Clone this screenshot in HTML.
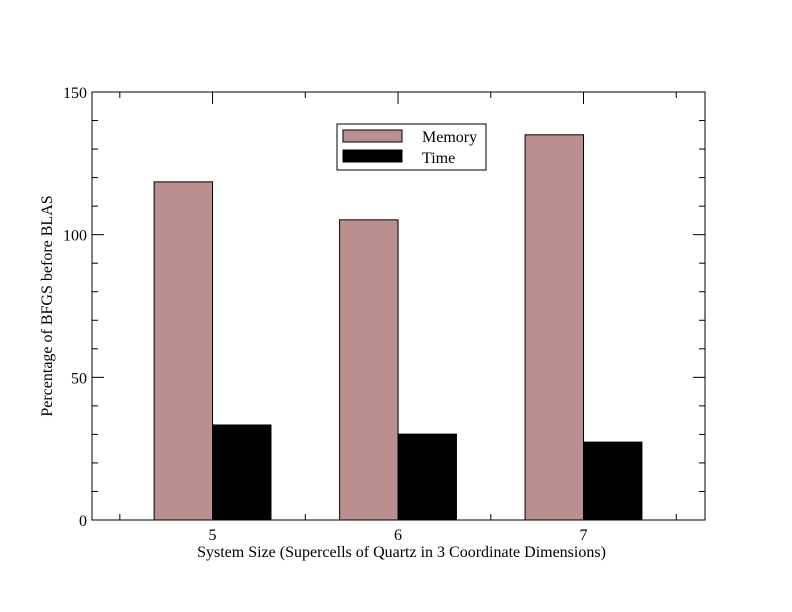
<!DOCTYPE html>
<html><head><meta charset="utf-8"><style>body{margin:0;background:#fff}svg{display:block;font-family:"Liberation Serif",serif}</style></head>
<body>
<svg id="chart" width="792" height="612" xmlns="http://www.w3.org/2000/svg"></svg>
<script>
const categories = [5, 6, 7];
const memoryValues = [118.5, 105.2, 135.0];
const timeValues = [33.3, 30.1, 27.3];
const yTickLabels = [0, 50, 100, 150];

const NS = "http://www.w3.org/2000/svg";
const svg = document.getElementById("chart");
const L = 92, R = 705, T = 92, B = 520;
const xMin = 4.35, xMax = 7.655, yMin = 0, yMax = 150;
const xS = v => L + (v - xMin) / (xMax - xMin) * (R - L);
const yS = v => B - (v - yMin) / (yMax - yMin) * (B - T);
function mk(tag, attrs, parent) {
  const e = document.createElementNS(NS, tag);
  for (const k in attrs) e.setAttribute(k, attrs[k]);
  (parent || svg).appendChild(e);
  return e;
}
const halfW = 0.315;
categories.forEach((c, i) => {
  const m = mk("rect", {x: xS(c - halfW), y: yS(memoryValues[i]), width: xS(c) - xS(c - halfW), height: yS(0) - yS(memoryValues[i]), fill: "#bc8f8f", stroke: "#000", "stroke-width": 1});
  
  
  const t = mk("rect", {x: xS(c), y: yS(timeValues[i]), width: xS(c + halfW) - xS(c), height: yS(0) - yS(timeValues[i]), fill: "#000", stroke: "#000", "stroke-width": 1});
  
  
});
const frame = mk("rect", {x: L, y: T, width: R - L, height: B - T, fill: "none", stroke: "#000", "stroke-width": 1});


// y ticks
for (let v = 0; v <= 150; v += 10) {
  const y = yS(v), len = v % 50 === 0 ? 12 : 6;
  mk("line", {x1: L, x2: L + len, y1: y, y2: y, stroke: "#000"});
  mk("line", {x1: R, x2: R - len, y1: y, y2: y, stroke: "#000"});
}
yTickLabels.forEach(v => {
  const t = mk("text", {x: L - 5, y: yS(v) + 6, "text-anchor": "end", "font-size": 16});
  t.textContent = v;
  
  
});
// x ticks
for (let v = 4.5; v <= 7.5; v += 0.5) {
  const x = xS(v), len = Number.isInteger(v) ? 12 : 6;
  mk("line", {x1: x, x2: x, y1: B, y2: B - len, stroke: "#000"});
  mk("line", {x1: x, x2: x, y1: T, y2: T + len, stroke: "#000"});
}
categories.forEach(c => {
  const t = mk("text", {x: xS(c), y: B + 20, "text-anchor": "middle", "font-size": 16});
  t.textContent = c;
  
  
});
const xt = mk("text", {x: (L + R) / 2 + 3, y: 557, "text-anchor": "middle", "font-size": 16});
xt.textContent = "System Size (Supercells of Quartz in 3 Coordinate Dimensions)";


const yt = mk("text", {x: 0, y: 0, "text-anchor": "middle", "font-size": 16, transform: "translate(52," + ((T + B) / 2) + ") rotate(-90)"});
yt.textContent = "Percentage of BFGS before BLAS";


// legend
const lg = mk("g", {});


mk("rect", {x: 337, y: 124, width: 149, height: 46, fill: "#fff", stroke: "#000"}, lg);
mk("rect", {x: 343, y: 130, width: 59, height: 12, fill: "#bc8f8f", stroke: "#000"}, lg);
mk("rect", {x: 343, y: 150, width: 59, height: 12, fill: "#000", stroke: "#000"}, lg);
const l1 = mk("text", {x: 422, y: 142, "font-size": 16}, lg);
l1.textContent = "Memory";


const l2 = mk("text", {x: 422, y: 163, "font-size": 16}, lg);
l2.textContent = "Time";


</script>
</body></html>
